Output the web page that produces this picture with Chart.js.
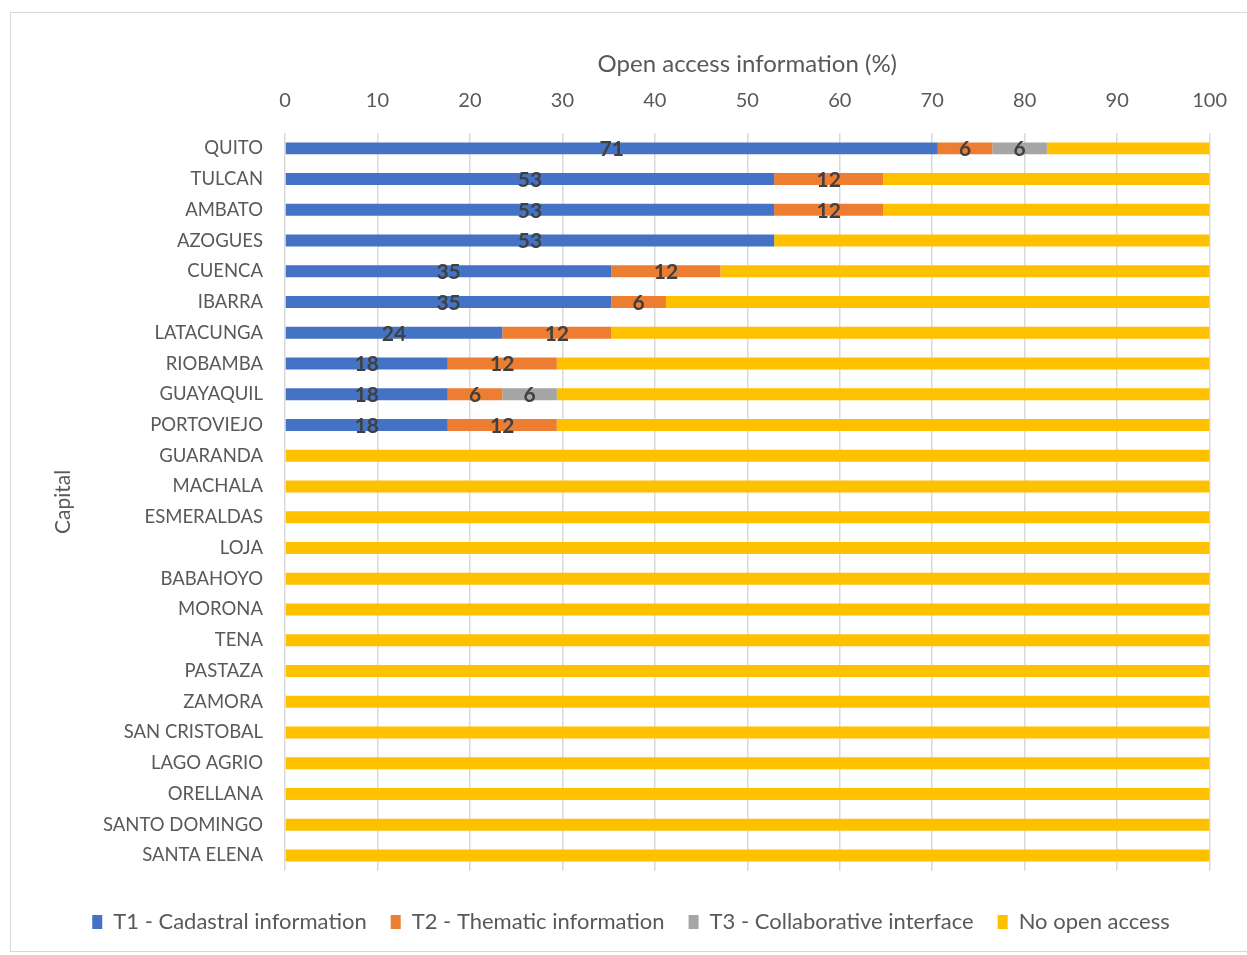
<!DOCTYPE html>
<html>
<head>
<meta charset="utf-8">
<script src="https://cdn.jsdelivr.net/npm/chart.js@4/dist/chart.umd.min.js"></script>
<style>
  html, body { margin:0; padding:0; background:#fff; }
  #wrap { position:absolute; left:10px; top:12px; width:1237px; height:940px;
          border-left:1px solid #d9d9d9; border-top:1px solid #d9d9d9; border-bottom:1px solid #d9d9d9; box-sizing:border-box; }
</style>
</head>
<body>
<div id="wrap"><canvas id="c"></canvas></div>
<script>
const capitals = ["QUITO","TULCAN","AMBATO","AZOGUES","CUENCA","IBARRA","LATACUNGA","RIOBAMBA","GUAYAQUIL","PORTOVIEJO",
  "GUARANDA","MACHALA","ESMERALDAS","LOJA","BABAHOYO","MORONA","TENA","PASTAZA","ZAMORA","SAN CRISTOBAL",
  "LAGO AGRIO","ORELLANA","SANTO DOMINGO","SANTA ELENA"];
const t1Cadastral = [70.6,52.9,52.9,52.9,35.3,35.3,23.5,17.6,17.6,17.6,0,0,0,0,0,0,0,0,0,0,0,0,0,0];
const t2Thematic  = [5.9,11.8,11.8,0,11.8,5.9,11.8,11.8,5.9,11.8,0,0,0,0,0,0,0,0,0,0,0,0,0,0];
const t3Collab    = [5.9,0,0,0,0,0,0,0,5.9,0,0,0,0,0,0,0,0,0,0,0,0,0,0,0];
const noAccess    = [17.6,35.3,35.3,47.1,52.9,58.8,64.7,70.6,70.6,70.6,100,100,100,100,100,100,100,100,100,100,100,100,100,100];
const xTicks = [0,10,20,30,40,50,60,70,80,90,100];

const FONT = "Lato, 'Open Sans', sans-serif";
const grey = "#595959";

// labels in the middle of each coloured segment (not on "No open access")
const segLabels = {
  id:"segLabels",
  afterDatasetsDraw(chart){
    const ctx = chart.ctx;
    ctx.save();
    ctx.font = "bold 21px " + FONT;
    ctx.fillStyle = "#404040";
    ctx.textAlign = "center";
    ctx.textBaseline = "middle";
    chart.data.datasets.forEach((ds, di)=>{
      if (ds.noLabel) return;
      chart.getDatasetMeta(di).data.forEach((bar, i)=>{
        const v = ds.data[i];
        if (!v) return;
        const cx = (bar.x + bar.base) / 2;
        ctx.fillText(String(Math.round(v)), cx, bar.y + 1);
      });
    });
    ctx.restore();
  }
};

const common = { categoryPercentage:1, barPercentage:0.39 };

new Chart(document.getElementById("c"), {
  type:"bar",
  data:{
    labels: capitals,
    datasets:[
      { label:"T1 - Cadastral information", data:t1Cadastral, backgroundColor:"#4472C4", ...common },
      { label:"T2 - Thematic information", data:t2Thematic, backgroundColor:"#ED7D31", ...common },
      { label:"T3 - Collaborative interface", data:t3Collab, backgroundColor:"#A5A5A5", ...common },
      { label:"No open access", data:noAccess, backgroundColor:"#FFC000", noLabel:true, ...common }
    ]
  },
  options:{
    indexAxis:"y",
    responsive:true,
    maintainAspectRatio:false,
    animation:false,
    layout:{ padding:{ left:40, right:36, top:30, bottom:8 } },
    scales:{
      x:{
        position:"top", stacked:true, min:0, max:100,
        afterBuildTicks(s){ s.ticks = xTicks.map(v=>({value:v})); },
        afterFit(s){ s.height = 90; },
        grid:{ color:"#d9d9d9", lineWidth:1.5, drawTicks:false },
        border:{ display:false },
        ticks:{ color:grey, font:{ family:FONT, size:20 }, padding:20 },
        title:{ display:true, text:"Open access information (%)", color:grey,
                font:{ family:FONT, size:24 }, padding:{ top:7, bottom:0 } }
      },
      y:{
        stacked:true,
        afterFit(s){ s.width = 234; },
        grid:{ display:false, drawTicks:false },
        border:{ display:false },
        ticks:{ color:grey, font:{ family:FONT, size:18.5 }, padding:22, autoSkip:false },
        title:{ display:true, text:"Capital", color:grey, font:{ family:FONT, size:21 }, padding:{ top:0, bottom:0 } }
      }
    },
    plugins:{
      legend:{
        position:"bottom",
        title:{ display:true, text:"", font:{ size:1 }, padding:{ top:15, bottom:0 } },
        labels:{ color:grey, font:{ family:FONT, size:22 }, boxWidth:10, boxHeight:14, padding:24 }
      },
      tooltip:{ enabled:false }
    }
  },
  plugins:[segLabels]
});
</script>
</body>
</html>
